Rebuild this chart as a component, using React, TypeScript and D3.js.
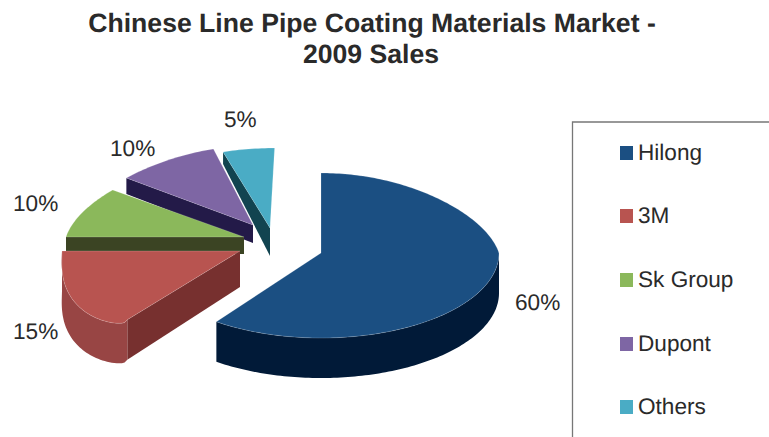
import React from "react";
import * as d3 from "d3";

const W = 769;
const H = 437;

// Market share, 2009
const companies = ["Hilong", "3M", "Sk Group", "Dupont", "Others"];
const shares = [60, 15, 10, 10, 5];

// Face colours per slice: top, outer rim, cut face
const topColors = ["#1b4f82", "#b85450", "#8bb85b", "#7e66a4", "#4aacc5"];
const rimColors = ["#011a38", "#984544", "#3b4423", "#231a48", "#124450"];
const cutColors = ["#011a38", "#77302f", "#3b4423", "#231a48", "#124450"];

// Exploded slice placement and per-slice extrusion
const apexX = [321, 240, 244, 253, 270];
const apexY = [253, 251, 237, 225, 228];
const depthAtApex = [40, 36, 17, 18, 28];
const depthAtRim = [40, 40, 17, 16, 12];
const leans = [0, 10, 0, 8, 4.6];
const sags = [0, 15, 0, 0, 0];
const perspectives = [0.15, 0.15, 0.15, 0.15, 0.07];

// Percent labels
const labelX = [515, 13, 13, 110, 224];
const labelY = [310, 338.5, 211, 156, 127];

// Legend rows
const legendSwatchY = [146, 209, 273, 337, 400];
const legendTextY = [160, 223, 287, 351, 413.5];

const RX = 178;
const RY_BACK = 80;
const RY_FRONT = 85;
const TEXT = "#2a2a2a";
const FONT = "'Liberation Sans', Arial, sans-serif";

const arcs = d3.pie<number>().sort(null)(shares);
const line = d3.line<[number, number]>();

function project(i: number, a: number): [number, number] {
  const arc = arcs[i];
  const u = Math.sin(a);
  const v = Math.cos(a);
  const t = (a - arc.startAngle) / (arc.endAngle - arc.startAngle);
  const sag = sags[i] * Math.sqrt(Math.max(0, Math.sin(Math.PI * t)));
  return [
    apexX[i] + RX * u * (1 - perspectives[i] * Math.max(v, 0)) + leans[i] * v,
    apexY[i] - (v > 0 ? RY_BACK : RY_FRONT) * v + sag,
  ];
}

function arcPoints(i: number, from: number, to: number, dy = 0): [number, number][] {
  const n = Math.max(2, Math.ceil(Math.abs(to - from) / 0.02));
  return d3.range(n + 1).map((k) => {
    const [x, y] = project(i, from + ((to - from) * k) / n);
    return [x, y + dy] as [number, number];
  });
}

function topFace(i: number): string {
  const { startAngle, endAngle } = arcs[i];
  const pts: [number, number][] = [[apexX[i], apexY[i]], ...arcPoints(i, startAngle, endAngle)];
  return line(pts) + "Z";
}

// The cut face along a slice's starting edge
function cutFace(i: number): string {
  const [rx, ry] = project(i, arcs[i].startAngle);
  const pts: [number, number][] = [
    [apexX[i], apexY[i]],
    [rx, ry],
    [rx, ry + depthAtRim[i]],
    [apexX[i], apexY[i] + depthAtApex[i]],
  ];
  return line(pts) + "Z";
}

// The curved outer wall, only where it faces the viewer
function rimFace(i: number): string | null {
  const from = Math.max(arcs[i].startAngle, Math.PI / 2);
  const to = Math.min(arcs[i].endAngle, (3 * Math.PI) / 2);
  if (to <= from) return null;
  const upper = arcPoints(i, from, to);
  const lower = arcPoints(i, from, to, depthAtRim[i]).reverse();
  return line([...upper, ...lower]) + "Z";
}

export default function App() {
  const drawOrder = [4, 3, 2, 1, 0];
  return (
    <svg
      width={W}
      height={H}
      viewBox={`0 0 ${W} ${H}`}
      style={{ position: "absolute", left: 0, top: 0, background: "#fff" }}
      fontFamily={FONT}
      textRendering="geometricPrecision"
    >
      <g fontSize={26.6} fontWeight="bold" fill={TEXT} textAnchor="middle">
        <text x={372} y={32}>Chinese Line Pipe Coating Materials Market -</text>
        <text x={371} y={63}>2009 Sales</text>
      </g>

      {drawOrder.map((i) => {
        const rim = rimFace(i);
        return (
          <g key={companies[i]}>
            <path d={cutFace(i)} fill={cutColors[i]} />
            {rim && <path d={rim} fill={rimColors[i]} />}
            <path d={topFace(i)} fill={topColors[i]} stroke="#ffffff" strokeOpacity={0.25} strokeWidth={0.7} />
          </g>
        );
      })}

      <g fontSize={22.6} fill={TEXT}>
        {shares.map((v, i) => (
          <text key={companies[i]} x={labelX[i]} y={labelY[i]}>{`${v}%`}</text>
        ))}
      </g>

      <path d={`M${W},122H572.5V${H}`} fill="none" stroke="#777" strokeWidth={1.3} />
      {companies.map((name, i) => (
        <g key={name}>
          <rect x={620} y={legendSwatchY[i]} width={13} height={14} fill={topColors[i]} />
          <text x={638} y={legendTextY[i]} fontSize={22.6} fill={TEXT}>{name}</text>
        </g>
      ))}
    </svg>
  );
}
